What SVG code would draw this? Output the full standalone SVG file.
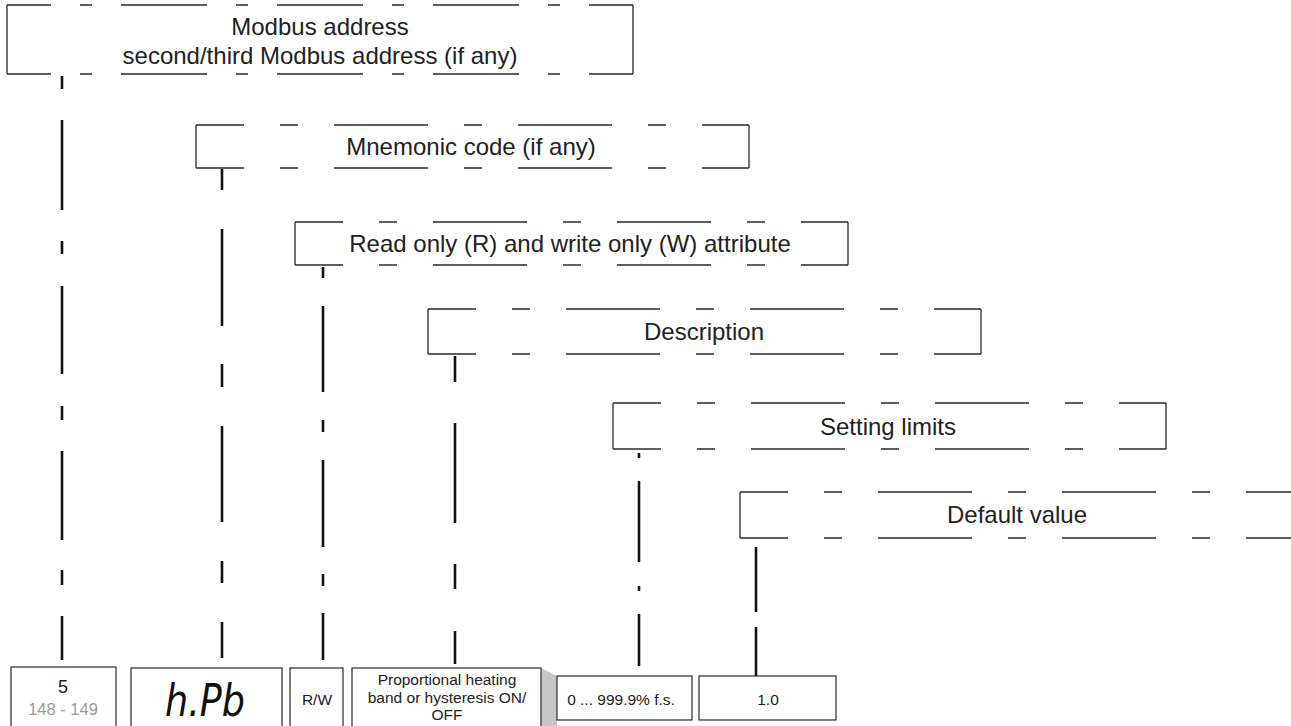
<svg xmlns="http://www.w3.org/2000/svg" width="1291" height="726" viewBox="0 0 1291 726">
<style>
.side{fill:none;stroke:#2a2a2a;stroke-width:1.3}
.d1{fill:none;stroke:#2a2a2a;stroke-width:1.3;stroke-dasharray:86 29 12 29;stroke-dashoffset:42}
.d2{fill:none;stroke:#2a2a2a;stroke-width:1.3;stroke-dasharray:94 36 18 36;stroke-dashoffset:46}
.lbl{font-family:"Liberation Sans",Arial,sans-serif;font-size:24px;fill:#222;text-anchor:middle}
.cell{fill:#fff;stroke:#2a2a2a;stroke-width:1.2}
.small{font-family:"Liberation Sans",Arial,sans-serif;font-size:15.5px;fill:#222;text-anchor:middle}
.conn{fill:none;stroke:#111;stroke-width:2.6}
</style>
<rect width="1291" height="726" fill="#fff"/>

<g id="connectors">
<path class="conn" d="M62 76V89M62 120V210M62 241V254M62 286V374M62 406V420M62 451V540M62 570V585M62 616V660"/>
<path class="conn" d="M222 169V190M222 229V326M222 364V387M222 426V522M222 561V583M222 622V658"/>
<path class="conn" d="M323 267V278M323 306V392M323 420V432M323 460V547M323 574V586M323 613V660"/>
<path class="conn" d="M455 356V382M455 423V523M455 564V589M455 631V664"/>
<path class="conn" d="M639 453V458M639 481V562M639 586V591M639 614V666"/>
<path class="conn" d="M756 547V612M756 627V676"/>
</g>

<g id="box-modbus">
<path class="side" d="M7 5V74M633 5V74"/>
<line class="d1" x1="7" y1="5" x2="633" y2="5"/>
<line class="d1" x1="7" y1="74" x2="633" y2="74"/>
<text class="lbl" x="320" y="35">Modbus address</text>
<text class="lbl" x="320" y="63.5">second/third Modbus address (if any)</text>
</g>

<g id="box-mnemonic">
<path class="side" d="M196 125V168M749 125V168"/>
<line class="d2" x1="196" y1="125" x2="749" y2="125"/>
<line class="d2" x1="196" y1="168" x2="749" y2="168"/>
<text class="lbl" x="471" y="155">Mnemonic code (if any)</text>
</g>

<g id="box-rw">
<path class="side" d="M295 222V265M848 222V265"/>
<line class="d2" x1="295" y1="222" x2="848" y2="222"/>
<line class="d2" x1="295" y1="265" x2="848" y2="265"/>
<text class="lbl" x="570" y="252">Read only (R) and write only (W) attribute</text>
</g>

<g id="box-description">
<path class="side" d="M428 309V354M981 309V354"/>
<line class="d2" x1="428" y1="309" x2="981" y2="309"/>
<line class="d2" x1="428" y1="354" x2="981" y2="354"/>
<text class="lbl" x="704" y="340">Description</text>
</g>

<g id="box-limits">
<path class="side" d="M613 403V449M1166 403V449"/>
<line class="d2" x1="613" y1="403" x2="1166" y2="403"/>
<line class="d2" x1="613" y1="449" x2="1166" y2="449"/>
<text class="lbl" x="888" y="435">Setting limits</text>
</g>

<g id="box-default">
<path class="side" d="M740 492V538"/>
<line class="d2" x1="740" y1="492" x2="1293" y2="492"/>
<line class="d2" x1="740" y1="538" x2="1293" y2="538"/>
<text class="lbl" x="1017" y="523">Default value</text>
</g>

<g id="cell-address">
<rect class="cell" x="11" y="667" width="105" height="70"/>
<text class="small" x="63" y="693" style="font-size:18px">5</text>
<text class="small" x="63" y="715" style="font-size:16.5px;fill:#9a9a9a">148 - 149</text>
</g>

<g id="cell-mnemonic">
<rect class="cell" x="131" y="668" width="151" height="70"/>
<text x="205" y="716" style="font-family:'DejaVu Sans',sans-serif;font-style:italic;font-size:44px;fill:#111;text-anchor:middle" textLength="80" lengthAdjust="spacingAndGlyphs">h.Pb</text>
</g>

<g id="cell-rw">
<rect class="cell" x="290" y="668" width="53" height="70"/>
<text class="small" x="317" y="705">R/W</text>
</g>

<g id="cell-description">
<polygon points="541,668 557,676 557,726 541,726" fill="#c6c6c6"/>
<rect class="cell" x="352" y="668" width="189" height="70"/>
<text class="small" x="447" y="685">Proportional heating</text>
<text class="small" x="447" y="703">band or hysteresis ON/</text>
<text class="small" x="447" y="720">OFF</text>
</g>

<g id="cell-limits">
<rect class="cell" x="557" y="676" width="135" height="44"/>
<text class="small" x="621" y="705">0 ... 999.9% f.s.</text>
</g>

<g id="cell-default">
<rect class="cell" x="699" y="676" width="137" height="44"/>
<text class="small" x="768" y="705">1.0</text>
</g>
</svg>
